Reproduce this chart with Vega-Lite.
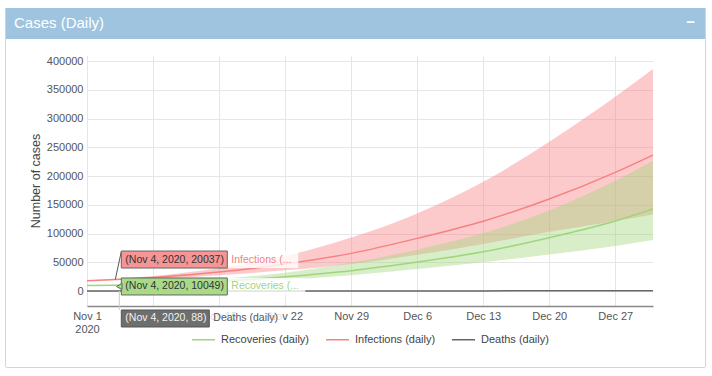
{
  "$schema": "https://vega.github.io/schema/vega-lite/v6.json",
  "background": "white",
  "padding": {"left": 5, "top": 8, "right": 0, "bottom": 0},
  "spacing": 0,
  "config": {
    "font": "Liberation Sans",
    "view": {"stroke": null},
    "axis": {
      "labelFont": "Liberation Sans",
      "titleFont": "Liberation Sans",
      "labelColor": "#555",
      "titleColor": "#444",
      "labelFontSize": 11,
      "gridColor": "#e6e6e6",
      "gridWidth": 1,
      "ticks": false,
      "tickSize": 0
    },
    "legend": {
      "labelFont": "Liberation Sans",
      "labelFontSize": 11,
      "labelColor": "#444",
      "symbolType": "stroke",
      "symbolSize": 529,
      "symbolStrokeWidth": 1.5,
      "symbolOpacity": 1,
      "labelOffset": 5,
      "columnPadding": 13
    }
  },
  "datasets": {
    "series": [
      {"series": "Infections (daily)", "date": "2020-11-01", "mid": 18000, "lo": 17600, "hi": 18400},
      {"series": "Infections (daily)", "date": "2020-11-04", "mid": 20037, "lo": 19300, "hi": 20900},
      {"series": "Infections (daily)", "date": "2020-11-08", "mid": 23500, "lo": 21500, "hi": 26000},
      {"series": "Infections (daily)", "date": "2020-11-15", "mid": 33000, "lo": 27500, "hi": 40000},
      {"series": "Infections (daily)", "date": "2020-11-22", "mid": 47000, "lo": 36000, "hi": 61000},
      {"series": "Infections (daily)", "date": "2020-11-29", "mid": 65500, "lo": 47000, "hi": 93000},
      {"series": "Infections (daily)", "date": "2020-12-06", "mid": 91600, "lo": 63000, "hi": 135000},
      {"series": "Infections (daily)", "date": "2020-12-13", "mid": 121500, "lo": 82000, "hi": 190000},
      {"series": "Infections (daily)", "date": "2020-12-20", "mid": 160000, "lo": 103000, "hi": 259600},
      {"series": "Infections (daily)", "date": "2020-12-27", "mid": 206400, "lo": 122000, "hi": 338000},
      {"series": "Infections (daily)", "date": "2020-12-31", "mid": 236500, "lo": 133000, "hi": 386000},
      {"series": "Recoveries (daily)", "date": "2020-11-01", "mid": 9700, "lo": 9400, "hi": 10000},
      {"series": "Recoveries (daily)", "date": "2020-11-04", "mid": 10049, "lo": 9700, "hi": 10500},
      {"series": "Recoveries (daily)", "date": "2020-11-08", "mid": 12000, "lo": 10800, "hi": 13500},
      {"series": "Recoveries (daily)", "date": "2020-11-15", "mid": 17000, "lo": 14000, "hi": 21000},
      {"series": "Recoveries (daily)", "date": "2020-11-22", "mid": 25000, "lo": 19500, "hi": 32000},
      {"series": "Recoveries (daily)", "date": "2020-11-29", "mid": 35500, "lo": 27500, "hi": 49000},
      {"series": "Recoveries (daily)", "date": "2020-12-06", "mid": 50500, "lo": 38300, "hi": 72000},
      {"series": "Recoveries (daily)", "date": "2020-12-13", "mid": 68300, "lo": 50000, "hi": 100300},
      {"series": "Recoveries (daily)", "date": "2020-12-20", "mid": 92700, "lo": 63500, "hi": 140000},
      {"series": "Recoveries (daily)", "date": "2020-12-27", "mid": 121700, "lo": 78300, "hi": 192000},
      {"series": "Recoveries (daily)", "date": "2020-12-31", "mid": 142600, "lo": 88700, "hi": 226600},
      {"series": "Deaths (daily)", "date": "2020-11-01", "mid": 80, "lo": 60, "hi": 100},
      {"series": "Deaths (daily)", "date": "2020-11-04", "mid": 88, "lo": 65, "hi": 115},
      {"series": "Deaths (daily)", "date": "2020-11-15", "mid": 120, "lo": 80, "hi": 180},
      {"series": "Deaths (daily)", "date": "2020-11-29", "mid": 180, "lo": 110, "hi": 320},
      {"series": "Deaths (daily)", "date": "2020-12-13", "mid": 280, "lo": 160, "hi": 600},
      {"series": "Deaths (daily)", "date": "2020-12-27", "mid": 430, "lo": 230, "hi": 1100},
      {"series": "Deaths (daily)", "date": "2020-12-31", "mid": 500, "lo": 260, "hi": 1400}
    ],
    "tips": [
      {"series": "Infections (daily)", "date": "2020-11-04", "value": 20037, "tip": "(Nov 4, 2020, 20037)", "name": "Infections (..."},
      {"series": "Recoveries (daily)", "date": "2020-11-04", "value": 10049, "tip": "(Nov 4, 2020, 10049)", "name": "Recoveries (..."},
      {"series": "Deaths (daily)", "date": "2020-11-04", "value": 88, "tip": "(Nov 4, 2020, 88)", "name": "Deaths (daily)"}
    ],
    "header": [
      {"t": "Cases (Daily)", "p": "a"},
      {"t": "−", "p": "b"}
    ]
  },
  "hconcat": [
    {"width": 1, "height": 359, "view": {"fill": "#c5d9ea", "stroke": null}, "data": {"values": []}, "mark": "rect"},
    {
      "spacing": 16,
      "vconcat": [
        {
          "width": 699,
          "height": 31,
          "view": {"fill": "#9ec4df", "stroke": null},
          "data": {"name": "header"},
          "encoding": {
            "x": {"field": "p", "type": "nominal", "scale": {"type": "point", "padding": 0, "domain": ["a", "b"]}, "axis": null},
            "text": {"field": "t"}
          },
          "layer": [
            {"transform": [{"filter": "datum.p == 'a'"}], "mark": {"type": "text", "align": "left", "baseline": "middle", "dx": 8, "dy": -1, "fontSize": 15, "color": "white", "font": "Liberation Sans"}},
            {"transform": [{"filter": "datum.p == 'b'"}], "mark": {"type": "text", "align": "right", "baseline": "middle", "dx": -10, "dy": -2, "fontSize": 15, "fontWeight": "bold", "color": "white", "font": "Liberation Sans"}}
          ]
        },
        {
          "spacing": 0,
          "hconcat": [
            {"width": 23, "height": 10, "view": {"fill": "white", "stroke": null}, "data": {"values": []}, "mark": "rect"},
            {
              "width": 566,
              "height": 251,
              "encoding": {
                "x": {
                  "field": "date", "type": "temporal",
                  "scale": {"type": "utc", "domain": [{"year": 2020, "month": 11, "date": 1, "utc": true}, {"year": 2020, "month": 12, "date": 31, "utc": true}]},
                  "axis": {
                    "title": null,
                    "tickCount": {"interval": "week", "step": 1},
                    "labelExpr": "utcdate(datum.value) == 1 && utcmonth(datum.value) == 10 ? [utcFormat(datum.value, '%b %-d'), '2020'] : utcFormat(datum.value, '%b %-d')",
                    "labelFlush": false,
                    "labelOverlap": false,
                    "labelPadding": 4,
                    "labelLineHeight": 13,
                    "domain": true,
                    "domainColor": "#888",
                    "domainWidth": 1.5,
                    "grid": true
                  }
                }
              },
              "layer": [
                {
                  "data": {"name": "series"},
                  "transform": [{"filter": "datum.series == 'Infections (daily)'"}],
                  "mark": {"type": "area", "interpolate": "monotone", "color": "#f78181", "fillOpacity": 0.42},
                  "encoding": {
                    "y": {"field": "lo", "type": "quantitative", "scale": {"domain": [-26000, 410500], "nice": false, "zero": false},
                      "axis": {"title": "Number of cases", "titleFontSize": 12.5, "titleFontWeight": "normal", "titlePadding": 4, "labelPadding": 4, "values": [0, 50000, 100000, 150000, 200000, 250000, 300000, 350000, 400000], "format": "d", "labelOverlap": false, "domain": false, "grid": true}},
                    "y2": {"field": "hi"}
                  }
                },
                {
                  "data": {"name": "series"},
                  "transform": [{"filter": "datum.series == 'Recoveries (daily)'"}],
                  "mark": {"type": "area", "interpolate": "monotone", "color": "#9fd67c", "fillOpacity": 0.41},
                  "encoding": {"y": {"field": "lo", "type": "quantitative", "scale": {"domain": [-26000, 410500], "nice": false, "zero": false},
                      "axis": {"title": "Number of cases", "titleFontSize": 12.5, "titleFontWeight": "normal", "titlePadding": 4, "labelPadding": 4, "values": [0, 50000, 100000, 150000, 200000, 250000, 300000, 350000, 400000], "format": "d", "labelOverlap": false, "domain": false, "grid": true}}, "y2": {"field": "hi"}}
                },
                {
                  "data": {"name": "series"},
                  "transform": [{"filter": "datum.series == 'Deaths (daily)'"}],
                  "mark": {"type": "area", "interpolate": "monotone", "color": "#666666", "fillOpacity": 0.4},
                  "encoding": {"y": {"field": "lo", "type": "quantitative", "scale": {"domain": [-26000, 410500], "nice": false, "zero": false},
                      "axis": {"title": "Number of cases", "titleFontSize": 12.5, "titleFontWeight": "normal", "titlePadding": 4, "labelPadding": 4, "values": [0, 50000, 100000, 150000, 200000, 250000, 300000, 350000, 400000], "format": "d", "labelOverlap": false, "domain": false, "grid": true}}, "y2": {"field": "hi"}}
                },
                {
                  "data": {"name": "series"},
                  "mark": {"type": "line", "interpolate": "monotone", "strokeWidth": 1.5},
                  "encoding": {
                    "y": {"field": "mid", "type": "quantitative", "scale": {"domain": [-26000, 410500], "nice": false, "zero": false},
                      "axis": {"title": "Number of cases", "titleFontSize": 12.5, "titleFontWeight": "normal", "titlePadding": 4, "labelPadding": 4, "values": [0, 50000, 100000, 150000, 200000, 250000, 300000, 350000, 400000], "format": "d", "labelOverlap": false, "domain": false, "grid": true}},
                    "stroke": {
                      "field": "series", "type": "nominal",
                      "scale": {"domain": ["Recoveries (daily)", "Infections (daily)", "Deaths (daily)"], "range": ["#9fd67c", "#f78181", "#666666"]},
                      "legend": {"title": null, "orient": "none", "direction": "horizontal", "legendX": 186, "legendY": 319}
                    }
                  }
                },
                {
                  "data": {"name": "tips"},
                  "transform": [{"filter": "datum.series == 'Infections (daily)'"}],
                  "encoding": {"y": {"field": "value", "type": "quantitative", "scale": {"domain": [-26000, 410500], "nice": false, "zero": false},
                      "axis": {"title": "Number of cases", "titleFontSize": 12.5, "titleFontWeight": "normal", "titlePadding": 4, "labelPadding": 4, "values": [0, 50000, 100000, 150000, 200000, 250000, 300000, 350000, 400000], "format": "d", "labelOverlap": false, "domain": false, "grid": true}}},
                  "layer": [
                    {"mark": {"type": "rule", "color": "#555", "strokeWidth": 1, "x2Offset": 6, "y2Offset": -28}, "encoding": {"x2": {"field": "date"}, "y2": {"field": "value"}}},
                    {"mark": {"type": "rect", "width": 71, "height": 17, "xOffset": 147.5, "yOffset": -20, "color": "white", "opacity": 0.8}},
                    {"mark": {"type": "rect", "width": 106, "height": 17, "xOffset": 59, "yOffset": -20, "fill": "#f59595", "stroke": "#666", "strokeWidth": 1}},
                    {"mark": {"type": "text", "align": "left", "baseline": "middle", "dx": 10, "dy": -20, "fontSize": 10.5, "color": "#333"}, "encoding": {"text": {"field": "tip"}}},
                    {"mark": {"type": "text", "align": "left", "baseline": "middle", "dx": 116, "dy": -20, "fontSize": 10.5, "color": "#f78181"}, "encoding": {"text": {"field": "name"}}}
                  ]
                },
                {
                  "data": {"name": "tips"},
                  "transform": [{"filter": "datum.series == 'Recoveries (daily)'"}],
                  "encoding": {"y": {"field": "value", "type": "quantitative", "scale": {"domain": [-26000, 410500], "nice": false, "zero": false},
                      "axis": {"title": "Number of cases", "titleFontSize": 12.5, "titleFontWeight": "normal", "titlePadding": 4, "labelPadding": 4, "values": [0, 50000, 100000, 150000, 200000, 250000, 300000, 350000, 400000], "format": "d", "labelOverlap": false, "domain": false, "grid": true}}},
                  "layer": [
                    {"mark": {"type": "rect", "width": 78, "height": 17, "xOffset": 151, "yOffset": 1.2, "color": "white", "opacity": 0.8}},
                    {"mark": {"type": "rect", "width": 106, "height": 17, "xOffset": 59, "yOffset": 1.2, "fill": "#a8da88", "stroke": "#666", "strokeWidth": 1}},
                    {"mark": {"type": "point", "shape": "triangle-left", "size": 40, "xOffset": 4, "yOffset": 1.2, "filled": true, "fill": "#a8da88", "stroke": "#666", "strokeWidth": 1, "opacity": 1}},
                    {"mark": {"type": "text", "align": "left", "baseline": "middle", "dx": 10, "dy": 1.2, "fontSize": 10.5, "color": "#333"}, "encoding": {"text": {"field": "tip"}}},
                    {"mark": {"type": "text", "align": "left", "baseline": "middle", "dx": 116, "dy": 1.2, "fontSize": 10.5, "color": "#9fd67c"}, "encoding": {"text": {"field": "name"}}}
                  ]
                },
                {
                  "data": {"name": "tips"},
                  "transform": [{"filter": "datum.series == 'Deaths (daily)'"}],
                  "encoding": {"y": {"field": "value", "type": "quantitative", "scale": {"domain": [-26000, 410500], "nice": false, "zero": false},
                      "axis": {"title": "Number of cases", "titleFontSize": 12.5, "titleFontWeight": "normal", "titlePadding": 4, "labelPadding": 4, "values": [0, 50000, 100000, 150000, 200000, 250000, 300000, 350000, 400000], "format": "d", "labelOverlap": false, "domain": false, "grid": true}}},
                  "layer": [
                    {"mark": {"type": "rule", "color": "#cccccc", "strokeWidth": 1, "xOffset": 4, "x2Offset": 4, "y2Offset": 19}, "encoding": {"x2": {"field": "date"}, "y2": {"field": "value"}}},
                    {"mark": {"type": "rect", "width": 73, "height": 17, "xOffset": 130.5, "yOffset": 27.5, "color": "white", "opacity": 0.8}},
                    {"mark": {"type": "rect", "width": 88, "height": 17, "xOffset": 50, "yOffset": 27.5, "fill": "#6e6e6e", "stroke": "#555", "strokeWidth": 1}},
                    {"mark": {"type": "text", "align": "left", "baseline": "middle", "dx": 10, "dy": 27.5, "fontSize": 10.5, "color": "#f2f2f2"}, "encoding": {"text": {"field": "tip"}}},
                    {"mark": {"type": "text", "align": "left", "baseline": "middle", "dx": 98, "dy": 27.5, "fontSize": 10.5, "color": "#555"}, "encoding": {"text": {"field": "name"}}}
                  ]
                }
              ]
            }
          ]
        },
        {"width": 699, "height": 1, "view": {"fill": "white", "stroke": null}, "data": {"values": []}, "mark": "rect"},
        {"width": 699, "height": 1, "view": {"fill": "#c5d9ea", "stroke": null}, "data": {"values": []}, "mark": "rect"}
      ]
    },
    {"width": 1, "height": 359, "view": {"fill": "#c5d9ea", "stroke": null}, "data": {"values": []}, "mark": "rect"}
  ]
}
